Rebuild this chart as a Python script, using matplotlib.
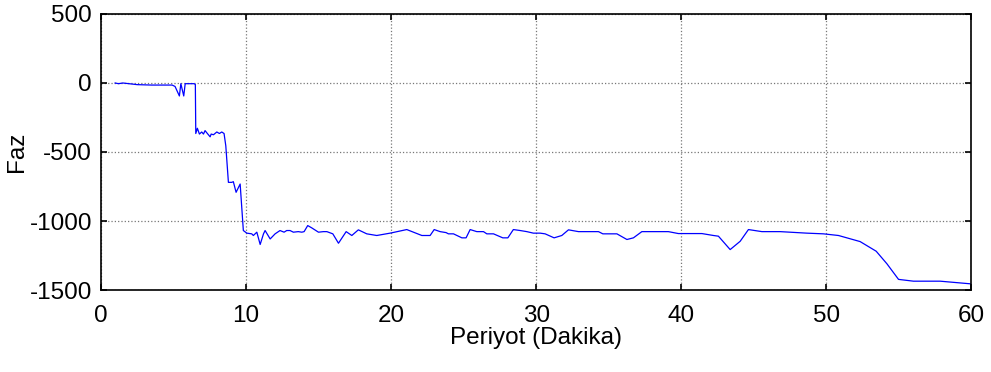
import matplotlib.pyplot as plt

plt.rcParams['font.family'] = ['Liberation Sans', 'DejaVu Sans']
plt.rcParams['axes.unicode_minus'] = False

# period (minutes) and phase, kept in pieces along the curve
x_start = [0.97, 1.2, 1.5, 2.5, 3.5, 4.9, 5.1, 5.4, 5.5, 5.7, 5.8, 6.4, 6.5]
y_start = [0, -5, 0, -12, -15, -15, -25, -94, -5, -94, -5, -5, -10]

x_step1 = [6.53, 6.64, 6.78, 6.94, 7.06, 7.17, 7.33, 7.52, 7.59, 7.75, 7.98, 8.16, 8.32, 8.48]
y_step1 = [-366, -328, -370, -355, -370, -345, -366, -390, -370, -375, -355, -366, -355, -366]

x_step2 = [8.6, 8.78, 9.01, 9.12, 9.31, 9.59, 9.81]
y_step2 = [-455, -720, -720, -715, -792, -732, -1069]

x_mid1 = [10.05, 10.39, 10.5, 10.74, 10.97, 11.2, 11.31, 11.66, 12.0, 12.34, 12.62, 12.8,
          13.03, 13.26, 13.6, 13.84, 14.0, 14.25, 14.53, 14.99, 15.33, 15.57, 15.98, 16.37]
y_mid1 = [-1088, -1093, -1105, -1081, -1170, -1093, -1069, -1130, -1093, -1069, -1081, -1069,
          -1069, -1081, -1077, -1081, -1077, -1033, -1050, -1081, -1077, -1077, -1093, -1161]

x_mid2 = [16.9, 17.29, 17.74, 18.32, 19.01, 19.93, 21.08, 22.12, 22.69, 22.97, 23.38, 23.79,
          23.95, 24.3, 24.88, 25.17, 25.45, 25.91, 26.37, 26.6, 27.06, 27.7, 28.05, 28.43,
          28.9, 29.36, 29.81]
y_mid2 = [-1077, -1105, -1064, -1093, -1105, -1088, -1062, -1105, -1105, -1062, -1077, -1084,
          -1093, -1093, -1122, -1122, -1062, -1077, -1077, -1093, -1093, -1122, -1122, -1062,
          -1069, -1077, -1088]

x_mid3 = [30.28, 30.62, 31.24, 31.77, 32.23, 32.92, 34.3, 34.6, 35.57, 36.26, 36.71, 37.29,
          39.12, 39.81, 41.43, 42.23, 42.57, 43.38, 44.07, 44.64]
y_mid3 = [-1088, -1093, -1122, -1105, -1064, -1077, -1077, -1093, -1093, -1134, -1122, -1077,
          -1077, -1091, -1091, -1105, -1110, -1207, -1147, -1062]

x_end = [45.57, 46.83, 48.67, 49.81, 50.85, 52.34, 53.45, 54.19, 54.99, 56.02, 57.86, 59.93]
y_end = [-1077, -1077, -1088, -1093, -1105, -1149, -1219, -1310, -1423, -1436, -1436, -1455]

periyot = x_start + x_step1 + x_step2 + x_mid1 + x_mid2 + x_mid3 + x_end
faz = y_start + y_step1 + y_step2 + y_mid1 + y_mid2 + y_mid3 + y_end

fig = plt.figure(figsize=(9.91, 3.72), dpi=100)
ax = fig.add_axes([0.102, 0.2204, 0.878, 0.742])
ax.plot(periyot, faz, color='#0000ff', linewidth=0.9)

ax.set_xlim(0, 60)
ax.set_ylim(-1500, 500)
ax.set_xticks(range(0, 61, 10))
ax.set_yticks(range(-1500, 501, 500))
ax.grid(True, color='#777777', linestyle=':', linewidth=0.9)
ax.tick_params(direction='in', top=True, right=True, labelsize=17.5, length=4, width=1.2)
ax.tick_params(axis='x', pad=11)
ax.tick_params(axis='y', pad=6.5)
for s in ax.spines.values():
    s.set_linewidth(1.2)

ax.set_xlabel('Periyot (Dakika)', fontsize=17.5, labelpad=0)
ax.set_ylabel('Faz', fontsize=17.5, labelpad=1)

fig.savefig('out.png', dpi=100)
